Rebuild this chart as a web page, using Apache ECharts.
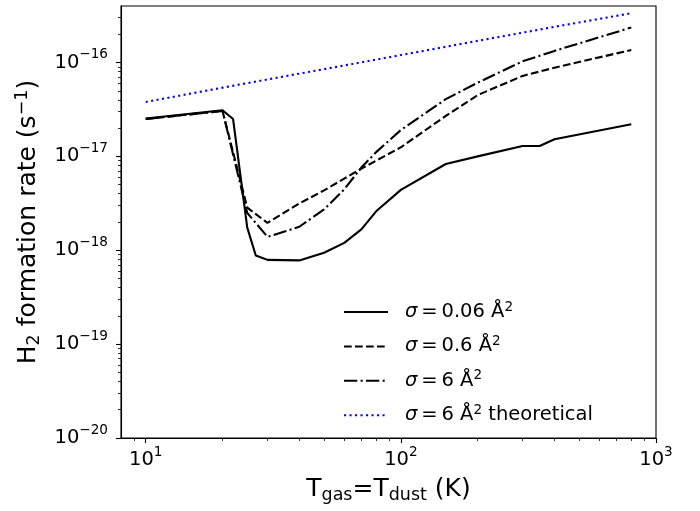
<!DOCTYPE html>
<html><head><meta charset="utf-8">
<script src="https://cdn.jsdelivr.net/npm/echarts@6/dist/echarts.min.js"></script>
<style>html,body{margin:0;padding:0;background:#fff}#c{width:700px;height:511px}</style>
</head><body><div id="c"></div>
<script>
// ---- data ----
const T_s006 = [10, 20, 22, 25, 27, 30, 40, 50, 60, 70, 80, 100, 150, 200, 300, 350, 400, 800];
const R_s006 = [2.53e-17, 3.1e-17, 2.5e-17, 1.74e-18, 8.8e-19, 7.9e-19, 7.8e-19, 9.4e-19, 1.2e-18, 1.67e-18, 2.6e-18, 4.4e-18, 8.3e-18, 1.0e-17, 1.29e-17, 1.29e-17, 1.52e-17, 2.2e-17];
const T_s06 = [10, 20, 25, 30, 40, 50, 60, 70, 80, 100, 150, 200, 300, 400, 800];
const R_s06 = [2.5e-17, 3.05e-17, 2.84e-18, 1.96e-18, 3.15e-18, 4.35e-18, 5.8e-18, 7.4e-18, 9.0e-18, 1.25e-17, 2.7e-17, 4.5e-17, 7.2e-17, 8.8e-17, 1.36e-16];
const T_s6 = [10, 20, 25, 30, 35, 40, 50, 60, 70, 80, 100, 150, 200, 300, 400, 800];
const R_s6 = [2.5e-17, 3.05e-17, 2.5e-18, 1.39e-18, 1.58e-18, 1.78e-18, 2.72e-18, 4.46e-18, 7.6e-18, 1.11e-17, 1.91e-17, 4.07e-17, 6.1e-17, 1.03e-16, 1.33e-16, 2.36e-16];
const T_theo = [10, 20, 30, 50, 100, 200, 400, 800];
const R_theo = [3.8e-17, 5.4e-17, 6.6e-17, 8.5e-17, 1.2e-16, 1.7e-16, 2.4e-16, 3.35e-16];
const seriesNames = ['σ = 0.06 Å²', 'σ = 0.6 Å²', 'σ = 6 Å²', 'σ = 6 Å² theoretical'];
const legendRich = ['{i|σ}{n|\u2009=\u20090.06 Å}{s|2}', '{i|σ}{n|\u2009=\u20090.6 Å}{s|2}', '{i|σ}{n|\u2009=\u20096 Å}{s|2}', '{i|σ}{n|\u2009=\u20096 Å}{s|2}{n| theoretical}'];
// ---- ticks ----
const xMajorTicks = [10, 100, 1000];
const xMinorTicks = [9, 20, 30, 40, 50, 60, 70, 80, 90, 200, 300, 400, 500, 600, 700, 800, 900];
const yMajorTicks = [1e-20, 1e-19, 1e-18, 1e-17, 1e-16];
const yMinorTicks = [2e-20, 3e-20, 4e-20, 5e-20, 6e-20, 7e-20, 8e-20, 9e-20,
  2e-19, 3e-19, 4e-19, 5e-19, 6e-19, 7e-19, 8e-19, 9e-19,
  2e-18, 3e-18, 4e-18, 5e-18, 6e-18, 7e-18, 8e-18, 9e-18,
  2e-17, 3e-17, 4e-17, 5e-17, 6e-17, 7e-17, 8e-17, 9e-17,
  2e-16, 3e-16];

const FONT = 'DejaVu Sans';
function pairs(xs, ys) { return xs.map((x, i) => [x, ys[i]]); }
function powLabel(v) {
  const e = Math.round(Math.log10(v));
  const es = e < 0 ? '−' + (-e) : '' + e;
  return '{b|10}{s|' + es + '}';
}
const tickRich = {
  b: { fontSize: 19.5, fontFamily: FONT, color: '#000', lineHeight: 30 },
  s: { fontSize: 13.6, fontFamily: FONT, color: '#000', lineHeight: 14, verticalAlign: 'top' }
};
const XMIN = 8, XMAX = 1000, YMIN = 1e-20, YMAX = 4e-16;

const chart = echarts.init(document.getElementById('c'), null, { renderer: 'canvas' });
const lineBase = { symbol: 'none', showSymbol: false, xAxisIndex: 0, yAxisIndex: 0, z: 3 };
chart.setOption({
  animation: false,
  backgroundColor: '#fff',
  grid: { left: 121, right: 44, top: 6, bottom: 73, show: true, borderColor: '#000', borderWidth: 1.1, backgroundColor: 'transparent' },
  legend: {
    orient: 'vertical', left: 338, top: 295, itemWidth: 44, itemHeight: 14, itemGap: 12.4,
    data: seriesNames,
    itemStyle: { opacity: 0, borderWidth: 0 },
    formatter: function (name) { return legendRich[seriesNames.indexOf(name)]; },
    textStyle: {
      padding: [0, 0, 0, 12],
      rich: {
        n: { fontSize: 19.5, fontFamily: FONT, color: '#000', lineHeight: 24 },
        i: { fontSize: 19.5, fontFamily: FONT, fontStyle: 'italic', color: '#000', lineHeight: 24 },
        s: { fontSize: 13.6, fontFamily: FONT, color: '#000', lineHeight: 13, verticalAlign: 'top' }
      }
    }
  },
  xAxis: [{
    type: 'log', logBase: 10, min: XMIN, max: XMAX, gridIndex: 0, position: 'bottom',
    name: '{n|T}{sub|gas}{n|=T}{sub|dust}{n| (K)}', nameLocation: 'middle', nameGap: 36,
    nameTextStyle: { rich: {
      n: { fontSize: 25, fontFamily: FONT, color: '#000', lineHeight: 30 },
      sub: { fontSize: 17.5, fontFamily: FONT, color: '#000', lineHeight: 17, verticalAlign: 'bottom' }
    } },
    axisLine: { show: true, lineStyle: { color: '#000', width: 1.1 } },
    axisTick: { show: true, inside: false, length: 5, lineStyle: { color: '#000', width: 1.1 }, customValues: xMajorTicks },
    axisLabel: { show: true, margin: 7, formatter: powLabel, rich: tickRich, customValues: xMajorTicks },
    splitLine: { show: false }
  }, {
    type: 'log', logBase: 10, min: XMIN, max: XMAX, gridIndex: 0, position: 'bottom', offset: 0,
    axisLine: { show: false },
    axisTick: { show: true, inside: false, length: 3, lineStyle: { color: '#000', width: 0.8 }, customValues: xMinorTicks },
    axisLabel: { show: false },
    splitLine: { show: false }
  }],
  yAxis: [{
    type: 'log', logBase: 10, min: YMIN, max: YMAX, gridIndex: 0, position: 'left',
    name: '{n|H}{sub|2}{n| formation rate (s}{sup|−1}{n|)}', nameLocation: 'middle', nameGap: 70, nameRotate: 90,
    nameTextStyle: { rich: {
      n: { fontSize: 25, fontFamily: FONT, color: '#000', lineHeight: 30 },
      sub: { fontSize: 17.5, fontFamily: FONT, color: '#000', lineHeight: 17, verticalAlign: 'bottom' },
      sup: { fontSize: 17.5, fontFamily: FONT, color: '#000', lineHeight: 17, verticalAlign: 'top' }
    } },
    axisLine: { show: true, lineStyle: { color: '#000', width: 1.1 } },
    axisTick: { show: true, inside: false, length: 5, lineStyle: { color: '#000', width: 1.1 }, customValues: yMajorTicks },
    axisLabel: { show: true, margin: 13, formatter: powLabel, rich: tickRich, customValues: yMajorTicks },
    splitLine: { show: false }
  }, {
    type: 'log', logBase: 10, min: YMIN, max: YMAX, gridIndex: 0, position: 'left', offset: 0,
    axisLine: { show: false },
    axisTick: { show: true, inside: false, length: 3, lineStyle: { color: '#000', width: 0.8 }, customValues: yMinorTicks },
    axisLabel: { show: false },
    splitLine: { show: false }
  }],
  series: [
    Object.assign({ type: 'line', name: seriesNames[0], data: pairs(T_s006, R_s006),
      lineStyle: { color: '#000', width: 2.1, type: 'solid' }, itemStyle: { color: '#000' } }, lineBase),
    Object.assign({ type: 'line', name: seriesNames[1], data: pairs(T_s06, R_s06),
      lineStyle: { color: '#000', width: 2.1, type: [7.7, 3.3] }, itemStyle: { color: '#000' } }, lineBase),
    Object.assign({ type: 'line', name: seriesNames[2], data: pairs(T_s6, R_s6),
      lineStyle: { color: '#000', width: 2.1, type: [13.3, 3.3, 2.1, 3.3] }, itemStyle: { color: '#000' } }, lineBase),
    Object.assign({ type: 'line', name: seriesNames[3], data: pairs(T_theo, R_theo),
      lineStyle: { color: '#0000ff', width: 2.1, type: [2.1, 3.4] }, itemStyle: { color: '#0000ff' } }, lineBase)
  ]
});
</script>
</body></html>
